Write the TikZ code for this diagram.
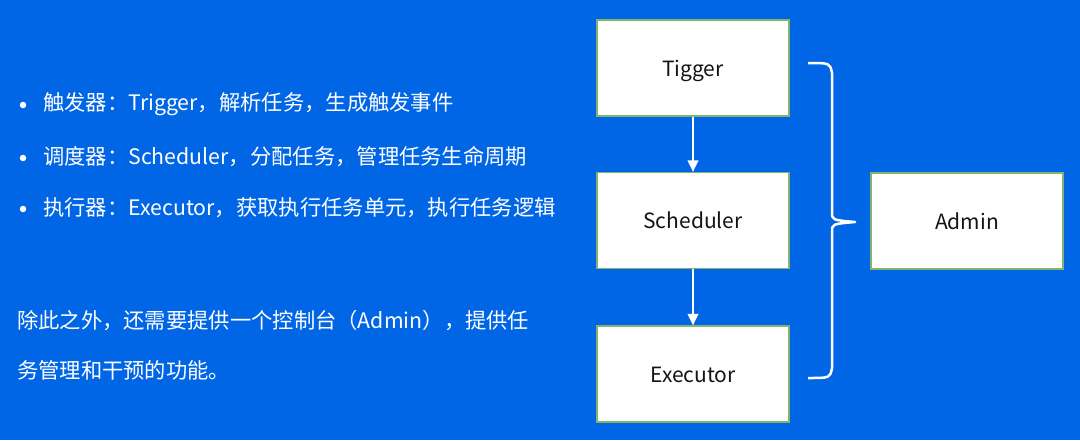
\documentclass[tikz,border=0pt]{standalone}
\usepackage{fontspec}
\setmainfont{Noto Sans CJK SC}
\usetikzlibrary{arrows.meta}
\definecolor{bgblue}{RGB}{0,102,230}
\definecolor{boxgreen}{RGB}{130,180,110}
\definecolor{txtdark}{RGB}{20,20,20}
\begin{document}
\begin{tikzpicture}[x=1pt,y=-1pt,
  box/.style={draw=boxgreen,line width=1.2pt,fill=white,minimum width=192pt,minimum height=96pt,inner sep=0pt,text=txtdark,font=\fontsize{21}{25}\selectfont,text height=18pt,text depth=2pt},
  wtext/.style={anchor=west,inner sep=0pt,text=white,font=\fontsize{21.3}{25}\selectfont},
  dot/.style={circle,fill=white,inner sep=0pt,minimum size=6.5pt},
  flow/.style={draw=white,line width=2pt,-{Triangle[width=10.5pt,length=11.5pt]}},
  brace/.style={draw=white,line width=2.5pt,line join=round}]
\fill[bgblue] (0,0) rectangle (1080,440);
\useasboundingbox (0,0) rectangle (1080,440);

\node[dot] (b1) at (23,105) {};
\node[dot] (b2) at (23,158) {};
\node[dot] (b3) at (23,209) {};
\node[wtext] (l1) at (43,104) {触发器：Trigger，解析任务，生成触发事件};
\node[wtext] (l2) at (43,157) {调度器：Scheduler，分配任务，管理任务生命周期};
\node[wtext] (l3) at (43,208) {执行器：Executor，获取执行任务单元，执行任务逻辑};
\node[wtext] (p1) at (17,321) {除此之外，还需要提供一个控制台（Admin），提供任};
\node[wtext] (p2) at (17,370) {务管理和干预的功能。};

\node[box] (trig) at (693,68) {Tigger};
\node[box] (sched) at (693,220.5) {Scheduler};
\node[box] (exec) at (693,374) {Executor};
\node[box] (admin) at (967,221) {Admin};

\draw[flow] (trig.south) -- (sched.north);
\draw[flow] (sched.south) -- (exec.north);

\coordinate (bt) at (808,63);
\coordinate (bm) at (855,222);
\coordinate (bb) at (808,378);
\draw[brace] (bt) .. controls (830,63) .. (832,73) -- (832,212)
  .. controls (832,220) .. (bm)
  .. controls (832,224) .. (832,232) -- (832,368)
  .. controls (830,378) .. (bb);
\end{tikzpicture}
\end{document}
